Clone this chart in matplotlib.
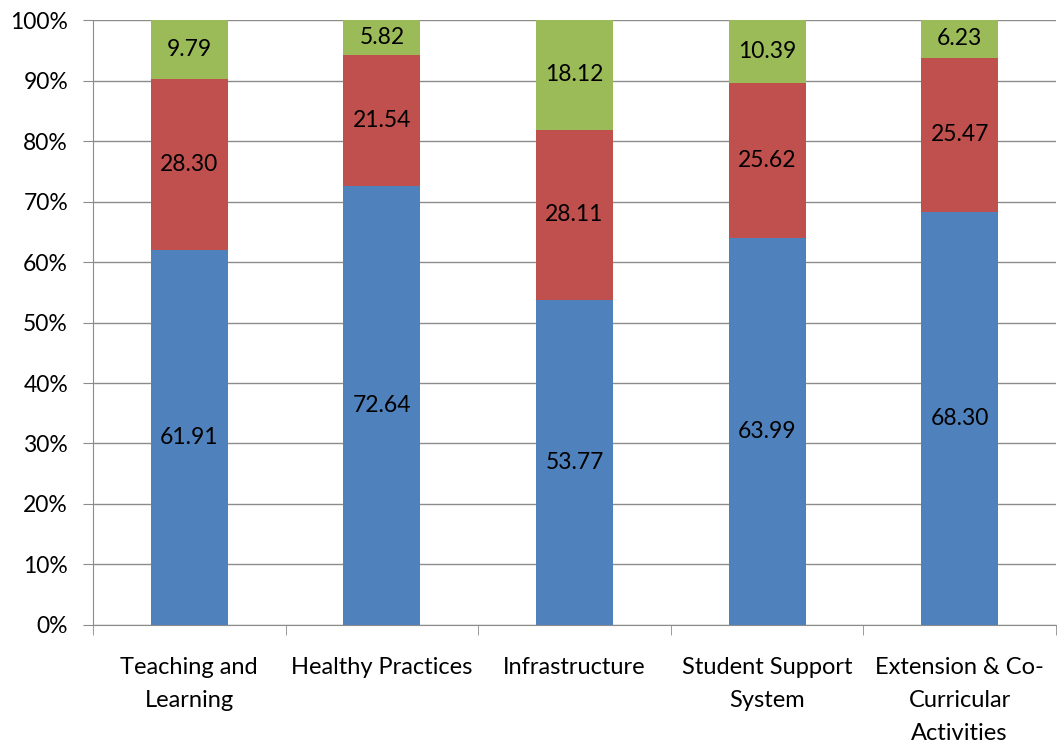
import numpy as np
import matplotlib
matplotlib.use("Agg")
import matplotlib.pyplot as plt
from matplotlib.ticker import FixedLocator, PercentFormatter

plt.rcParams['font.family'] = ['Lato', 'DejaVu Sans']

# Chart data
categories = ["Teaching and\nLearning", "Healthy Practices", "Infrastructure",
              "Student Support\nSystem", "Extension & Co-\nCurricular\nActivities"]
blue_vals = [61.91, 72.64, 53.77, 63.99, 68.30]
red_vals = [28.30, 21.54, 28.11, 25.62, 25.47]
green_vals = [9.79, 5.82, 18.12, 10.39, 6.23]

colors = ["#4F81BD", "#C0504D", "#9BBB59"]

fig = plt.figure(figsize=(10.57, 7.44), dpi=100)
ax = fig.add_axes([0.088, 0.16, 0.911, 0.813])

x = np.arange(len(categories))
width = 0.4
bottom = np.zeros(len(categories))
for vals, col in zip([blue_vals, red_vals, green_vals], colors):
    vals = np.array(vals)
    ax.bar(x, vals, width, bottom=bottom, color=col, zorder=3)
    for xi, b, v in zip(x, bottom, vals):
        ax.text(xi, b + v / 2, "{0:.2f}".format(v), ha="center", va="center",
                fontsize=16.5, color="black", zorder=4)
    bottom += vals

ax.set_xlim(-0.5, len(categories) - 0.5)
ax.set_ylim(0, 100)
ax.yaxis.set_major_locator(FixedLocator(np.arange(0, 101, 10)))
ax.yaxis.set_major_formatter(PercentFormatter(decimals=0))
ax.grid(axis="y", color="#8c8c8c", linewidth=1, zorder=0)

ax.set_xticks(x)
ax.set_xticklabels(categories, fontsize=17, linespacing=1.72)
ax.xaxis.set_minor_locator(FixedLocator(np.arange(-0.5, len(categories), 1.0)))
ax.tick_params(axis="x", which="major", length=0, pad=23)
ax.tick_params(axis="x", which="minor", length=7, color="#8c8c8c", direction="out")
ax.tick_params(axis="y", labelsize=16.5, length=7, color="#8c8c8c", direction="out", pad=11)

for s in ["top", "right"]:
    ax.spines[s].set_visible(False)
ax.spines["left"].set_color("#8c8c8c")
ax.spines["bottom"].set_color("#8c8c8c")
ax.spines["left"].set_zorder(5)

fig.savefig("out.png", dpi=100)
